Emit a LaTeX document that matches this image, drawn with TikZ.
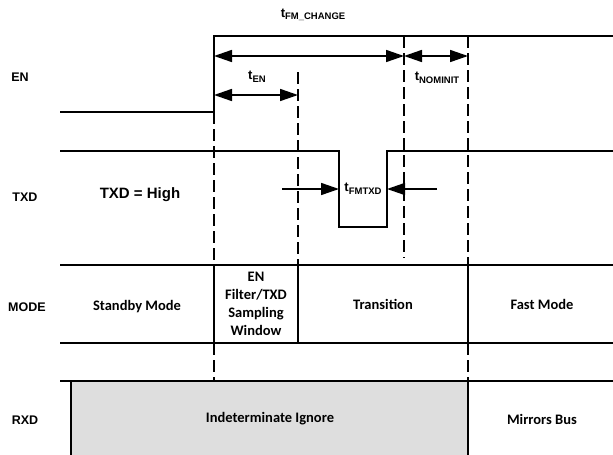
\documentclass[tikz,border=0pt]{standalone}
\usepackage{fontspec}
\setmainfont{Liberation Sans}
\newfontfamily\calfont{Carlito}
\usetikzlibrary{arrows.meta}
\definecolor{rxdgray}{HTML}{DEDEDE}

% timing label: t with a small raised-down subscript
\newcommand{\tlabel}[1]{{\fontsize{13}{14}\selectfont t}\raisebox{-2.5pt}{\fontsize{9.5}{10}\selectfont #1}}

\begin{document}
\begin{tikzpicture}[
    x=1pt, y=-1pt, % pixel-like grid, y runs downwards
    every node/.style={font=\bfseries},
    signal/.style={line width=1.6pt, line join=miter},
    edge mark/.style={line width=1.6pt, dash pattern=on 12pt off 5pt},
    dim arrow/.style={line width=1.6pt, {Triangle[length=18pt,width=12pt]}-{Triangle[length=18pt,width=12pt]}},
    push arrow/.style={line width=1.6pt, -{Triangle[length=18pt,width=12pt]}},
    sig label/.style={font=\bfseries\fontsize{12.5}{13}\selectfont},
    mode text/.style={font=\calfont\bfseries\fontsize{14.5}{18}\selectfont, align=center}
]
    \useasboundingbox (0,0) rectangle (613,455);

    % --- 1. SHARED POSITIONS ---
    \def\xL{60}   % start of the traces
    \def\xA{214}  % EN rises
    \def\xB{298}  % end of t_EN
    \def\xC{404}  % end of t_FM_CHANGE
    \def\xD{468}  % end of t_NOMINIT
    \def\xR{613}
    \def\yModeT{265}
    \def\yModeB{343}
    \def\yRxd{381}

    % --- 2. RXD SHADED AREA ---
    \fill[rxdgray] (71,\yRxd) rectangle (\xD,455);

    % --- 3. SIGNAL TRACES ---
    % EN
    \draw[signal] (\xL,112) -- (\xA,112) -- (\xA,36) -- (\xR,36);
    % TXD
    \draw[signal] (\xL,151) -- (339,151) -- (339,227) -- (387,227) -- (387,151) -- (\xR,151);
    % MODE rows
    \draw[signal] (\xL,\yModeT) -- (\xR,\yModeT);
    \draw[signal] (\xL,\yModeB) -- (\xR,\yModeB);
    \foreach \xx in {\xA,\xB,\xD}
        \draw[signal] (\xx,\yModeT) -- (\xx,\yModeB);
    % RXD
    \draw[signal] (\xL,\yRxd) -- (\xR,\yRxd);
    \draw[signal] (71,\yRxd) -- (71,455);
    \draw[signal] (\xD,\yRxd) -- (\xD,455);

    % --- 4. DASHED EDGE MARKS ---
    \draw[edge mark] (\xA,112) -- (\xA,\yModeT);
    \draw[edge mark] (\xA,\yModeB) -- (\xA,\yRxd);
    \draw[edge mark] (\xB,72) -- (\xB,\yModeT);
    \draw[edge mark] (\xC,36) -- (\xC,258);
    \draw[edge mark] (\xD,36) -- (\xD,\yModeT);
    \draw[edge mark] (\xD,\yModeB) -- (\xD,\yRxd);

    % --- 5. TIMING ARROWS ---
    \coordinate (fm start) at (\xA,56);
    \coordinate (fm end)   at (\xC,56);
    \coordinate (nom end)  at (\xD,56);
    \coordinate (en start) at (\xA,95);
    \coordinate (en end)   at (\xB,95);
    \coordinate (txd fall) at (339,189);
    \coordinate (txd rise) at (387,189);
    \coordinate (push l)   at (282,189);
    \coordinate (push r)   at (437,189);

    \draw[dim arrow] (fm start) -- (fm end);
    \draw[dim arrow] (fm end) -- (nom end);
    \draw[dim arrow] (en start) -- (en end);
    \draw[push arrow] (push l) -- (txd fall);
    \draw[push arrow] (push r) -- (txd rise);

    \node (tfmchange) at (313,15)  {\tlabel{FM\_CHANGE}};
    \node (ten)       at (257,77)  {\tlabel{EN}};
    \node (tnominit)  at (437,78)  {\tlabel{NOMINIT}};
    \node (tfmtxd)    at (363,189) {\tlabel{FMTXD}};

    % --- 6. ROW NAMES ---
    \node[sig label] (en)   at (20,77)  {EN};
    \node[sig label] (txd)  at (25,197) {TXD};
    \node[sig label] (mode) at (27,307) {MODE};
    \node[sig label] (rxd)  at (25,420) {RXD};
    \node[font=\bfseries\fontsize{15}{16}\selectfont] (txdhigh) at (140,195) {TXD = High};

    % --- 7. MODE / RXD TEXTS ---
    \node[mode text] (standby)    at (137,307) {Standby Mode};
    \node[mode text] (window)     at (256,304) {EN\\Filter/TXD\\Sampling\\Window};
    \node[mode text] (transition) at (383,304) {Transition};
    \node[mode text] (fast)       at (542,304) {Fast Mode};
    \node[mode text] (indet)      at (270,419) {Indeterminate Ignore};
    \node[mode text] (mirrors)    at (542,419) {Mirrors Bus};

\end{tikzpicture}
\end{document}
